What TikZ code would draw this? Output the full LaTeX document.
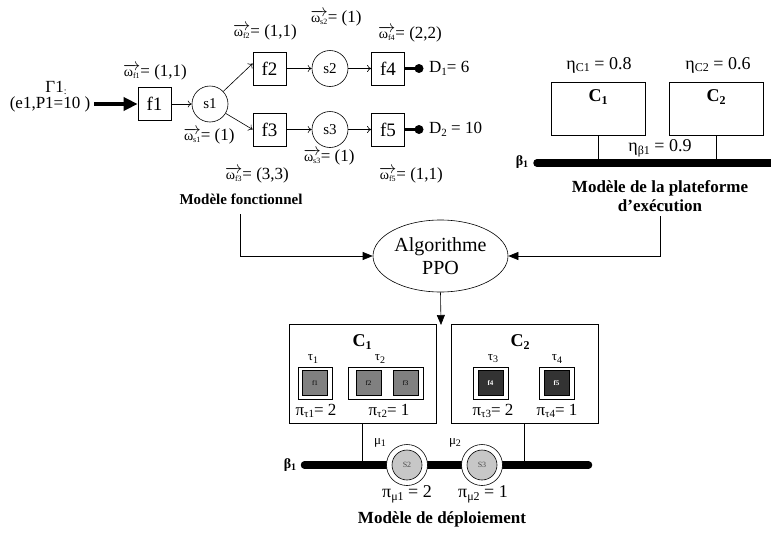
\documentclass[tikz,border=0pt]{standalone}
\usepackage{fontspec}
\setmainfont{Liberation Serif}
\usetikzlibrary{arrows.meta,shapes.geometric}
\newcommand{\lsub}[2][11]{\raisebox{-0.35ex}{\fontsize{#1}{#1}\selectfont #2}}
\newcommand{\om}[1]{$\overrightarrow{\hbox{\fontsize{14}{14}\selectfont ω\lsub[8]{#1}}}$}
\begin{document}
\begin{tikzpicture}[x=1pt,y=-1pt,
  fbox/.style={draw, line width=0.7pt, minimum width=33pt, minimum height=33pt, inner sep=0pt, font=\fontsize{19}{19}\selectfont},
  sbox/.style={draw, circle, line width=0.6pt, minimum size=36pt, inner sep=0pt, font=\fontsize{15}{15}\selectfont},
  lbl/.style={inner sep=0pt, font=\fontsize{17}{17}\selectfont},
  small/.style={inner sep=0pt, font=\fontsize{13}{13}\selectfont},
  title/.style={inner sep=0pt, font=\fontsize{17}{19}\selectfont\bfseries, align=center},
  flow/.style={-{To[length=4pt,width=7pt]}, line width=0.6pt},
  solid arrow/.style={-{Triangle[length=10pt,width=8pt]}, line width=0.6pt},
  bigarrow/.style={-{Triangle[length=14pt,width=13pt]}, line width=4pt},
  dotnode/.style={circle, fill=black, minimum size=9pt, inner sep=0pt},
  cbox/.style={draw, line width=0.7pt, inner sep=0pt},
  clabel/.style={inner sep=0pt, font=\fontsize{18}{18}\selectfont\bfseries},
  tauout/.style={draw, line width=0.7pt, fill=white, minimum height=32pt, inner sep=0pt},
  taugray/.style={draw, line width=0.6pt, fill=black!50, minimum size=25pt, inner sep=0pt, font=\fontsize{7}{7}\selectfont},
  taudark/.style={draw, line width=0.6pt, fill=black!80, text=white, minimum size=25pt, inner sep=0pt, font=\fontsize{7}{7}\selectfont\bfseries},
  ring/.style={circle, draw, line width=0.6pt, fill=white, minimum size=41pt, inner sep=0pt},
  core/.style={circle, draw, line width=0.6pt, fill=black!22, minimum size=30pt, inner sep=0pt, text=black!70, font=\fontsize{8}{8}\selectfont},
  bus/.style={line width=7.5pt, line cap=round}
]
\useasboundingbox (0,0) rectangle (771,533);

% ---------- functional model ----------
\node[lbl] (g1) at (56,88) {Γ1\lsub[10]{:}};
\node[lbl] (e1) at (50,104) {(e1,P1=10 )};
\coordinate (gstart) at (94,104);
\node[fbox] (f1) at (154.5,104) {f1};
\node[sbox] (s1) at (210,104) {s1};
\node[fbox] (f2) at (269.5,68.5) {f2};
\node[fbox] (f3) at (269.5,129.5) {f3};
\node[sbox] (s2) at (330,68.5) {s2};
\node[sbox] (s3) at (330,129.5) {s3};
\node[fbox] (f4) at (388,68.5) {f4};
\node[fbox] (f5) at (388,129.5) {f5};
\node[dotnode] (d1) at (419,68.5) {};
\node[dotnode] (d2) at (419,129.5) {};
\node[lbl, anchor=west] (D1) at (429,68.5) {D\lsub{1}= 6};
\node[lbl, anchor=west] (D2) at (429,129.5) {D\lsub{2} = 10};

\draw[bigarrow] (gstart) -- (f1.west);
\draw[flow] (f1) -- (s1);
\draw[flow] (s1) -- ([yshift=5pt]f2.west);
\draw[flow] (s1) -- (f3.west);
\draw[flow] (f2) -- (s2);
\draw[flow] (s2) -- (f4);
\draw[flow] (f3) -- (s3);
\draw[flow] (s3) -- (f5);
\draw[line width=3pt] (f4.east) -- (d1.center);
\draw[line width=3pt] (f5.east) -- (d2.center);

\node[lbl] (wf1) at (155,72) {\om{f1}= (1,1)};
\node[lbl] (ws1) at (209,136) {\om{s1}= (1)};
\node[lbl] (wf2) at (265,32) {\om{f2}= (1,1)};
\node[lbl] (ws2) at (336,18) {\om{s2}= (1)};
\node[lbl] (wf4) at (410,34) {\om{f4}= (2,2)};
\node[lbl] (ws3) at (329,157) {\om{s3}= (1)};
\node[lbl] (wf3) at (257,175) {\om{f3}= (3,3)};
\node[lbl] (wf5) at (411,175) {\om{f5}= (1,1)};

\node[title, font=\fontsize{15}{15}\selectfont\bfseries] (tfonc) at (241,199) {Modèle fonctionnel};

% ---------- platform model ----------
\node[lbl, font=\fontsize{18}{18}\selectfont] (etac1) at (599,65) {η\lsub[12]{C1} = 0.8};
\node[lbl, font=\fontsize{18}{18}\selectfont] (etac2) at (718,65) {η\lsub[12]{C2} = 0.6};
\node[cbox, minimum width=94pt, minimum height=53pt] (C1p) at (598,108.5) {};
\node[cbox, minimum width=94pt, minimum height=53pt] (C2p) at (716,108.5) {};
\node[clabel] (C1pl) at (598,97) {C\lsub[12]{1}};
\node[clabel] (C2pl) at (716,97) {C\lsub[12]{2}};
\coordinate (pb1) at (537,163);
\coordinate (pb2) at (775,163);
\draw[bus] (pb1) -- (pb2);
\draw[line width=0.6pt] (C1p.south) -- (C1p.south |- pb1);
\draw[line width=0.6pt] (C2p.south) -- (C2p.south |- pb1);
\node[lbl, font=\fontsize{18}{18}\selectfont] (etab) at (660,148) {η\lsub[12]{β1} = 0.9};
\node[small, font=\fontsize{14}{14}\selectfont\bfseries] (beta1p) at (522,162) {β\lsub[10]{1}};
\node[title] (tplat) at (660,196) {Modèle de la plateforme\\d’exécution};

% ---------- algorithm ----------
\node[draw, ellipse, line width=0.6pt, minimum width=135pt, minimum height=72pt, inner sep=0pt,
      font=\fontsize{20}{23}\selectfont, align=center] (algo) at (440.5,256) {Algorithme\\PPO};
\coordinate (lstart) at (240,214);
\coordinate (rstart) at (660,216);
\draw[solid arrow] (lstart) |- (algo.west);
\draw[solid arrow] (rstart) |- (algo.east);
\coordinate (dend) at (441,325);
\draw[solid arrow] (algo.south) -- (dend);

% ---------- deployment model ----------
\node[cbox, minimum width=147pt, minimum height=99pt] (C1d) at (362.5,373.5) {};
\node[cbox, minimum width=147pt, minimum height=99pt] (C2d) at (524.5,373.5) {};
\node[clabel] (C1dl) at (362,342) {C\lsub[12]{1}};
\node[clabel] (C2dl) at (520,342) {C\lsub[12]{2}};

\node[tauout, minimum width=34pt] (t1) at (315,383) {};
\node[taugray] (t1f1) at (315,383) {f1};
\node[tauout, minimum width=75pt] (t2) at (385.5,383) {};
\node[taugray] (t2f2) at (368.5,383) {f2};
\node[taugray] (t2f3) at (405.5,383) {f3};
\node[tauout, minimum width=35pt] (t3) at (490.5,383) {};
\node[taudark] (t3f4) at (490.5,383) {f4};
\node[tauout, minimum width=35pt] (t4) at (556.5,383) {};
\node[taudark] (t4f5) at (556.5,383) {f5};

\node[small] (tau1) at (313,359) {τ\lsub[10]{1}};
\node[small] (tau2) at (380,359) {τ\lsub[10]{2}};
\node[small] (tau3) at (493,359) {τ\lsub[10]{3}};
\node[small] (tau4) at (557,359) {τ\lsub[10]{4}};
\node[lbl] (pit1) at (316,411) {π\lsub{τ1}= 2};
\node[lbl] (pit2) at (389,411) {π\lsub{τ2}= 1};
\node[lbl] (pit3) at (493,411) {π\lsub{τ3}= 2};
\node[lbl] (pit4) at (557,411) {π\lsub{τ4}= 1};

\coordinate (db1) at (304.5,465);
\coordinate (db2) at (588.5,465);
\draw[bus] (db1) -- (db2);
\draw[line width=0.6pt] (C1d.south) -- (C1d.south |- db1);
\coordinate (c2foot) at (524,423);
\draw[line width=0.6pt] (c2foot) -- (c2foot |- db1);
\node[small, font=\fontsize{14}{14}\selectfont\bfseries] (beta1d) at (290,465) {β\lsub[10]{1}};

\node[ring] (mu1r) at (407,465) {};
\node[core] (mu1) at (407,465) {S2};
\node[ring] (mu2r) at (482,465) {};
\node[core] (mu2) at (482,465) {S3};
\node[small] (mu1l) at (380,443) {μ\lsub[10]{1}};
\node[small] (mu2l) at (455,443) {μ\lsub[10]{2}};
\node[lbl, font=\fontsize{18}{18}\selectfont] (pim1) at (407,494) {π\lsub[12]{μ1} = 2};
\node[lbl, font=\fontsize{18}{18}\selectfont] (pim2) at (483,494) {π\lsub[12]{μ2} = 1};

\node[title] (tdep) at (442,519) {Modèle de déploiement};
\end{tikzpicture}
\end{document}
